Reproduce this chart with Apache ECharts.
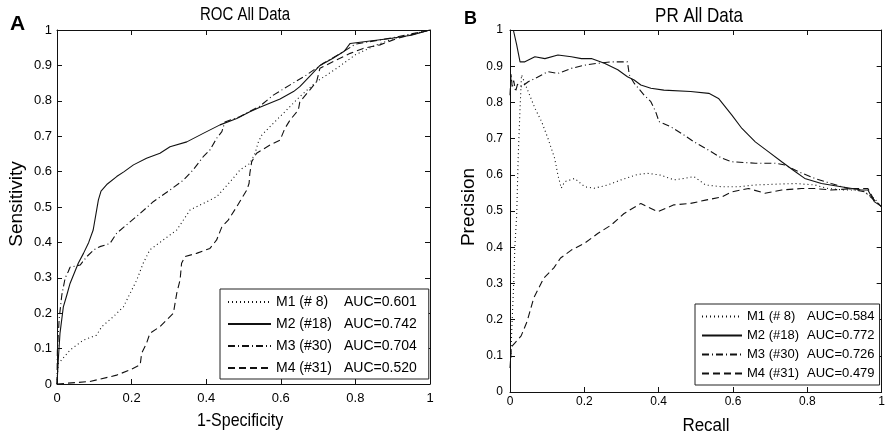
<!DOCTYPE html>
<html>
<head>
<meta charset="utf-8">
<script src="https://cdn.jsdelivr.net/npm/echarts@6/dist/echarts.min.js"></script>
<style>
html,body{margin:0;padding:0;background:#fff;}
#chart{width:888px;height:438px;}
</style>
</head>
<body>
<div id="chart"></div>
<script>
// ---------- data ----------
const modelNames = ['M1 (# 8)', 'M2 (#18)', 'M3 (#30)', 'M4 (#31)'];
const rocAUC = ['0.601', '0.742', '0.704', '0.520'];
const prAUC = ['0.584', '0.772', '0.726', '0.479'];
const xTicks = [0, 0.2, 0.4, 0.6, 0.8, 1];
const yTicks = [0, 0.1, 0.2, 0.3, 0.4, 0.5, 0.6, 0.7, 0.8, 0.9, 1];

// ROC curves: [1-specificity, sensitivity]
const rocM1 = [[0,0],[0.002,0.04],[0.004,0.058],[0.035,0.096],[0.071,0.124],[0.106,0.138],[0.12,0.162],[0.151,0.19],[0.178,0.218],[0.196,0.256],[0.214,0.294],[0.231,0.341],[0.249,0.379],[0.285,0.407],[0.321,0.435],[0.357,0.492],[0.392,0.51],[0.428,0.529],[0.464,0.571],[0.491,0.605],[0.517,0.623],[0.531,0.652],[0.54,0.684],[0.549,0.703],[0.571,0.727],[0.589,0.746],[0.611,0.769],[0.651,0.812],[0.696,0.854],[0.75,0.892],[0.8,0.93],[0.85,0.955],[0.9,0.975],[1,1]];
const rocM2 = [[0,0],[0.004,0.077],[0.008,0.143],[0.017,0.218],[0.026,0.25],[0.035,0.284],[0.057,0.341],[0.071,0.369],[0.085,0.4],[0.097,0.435],[0.106,0.49],[0.111,0.52],[0.118,0.545],[0.135,0.565],[0.16,0.586],[0.18,0.6],[0.205,0.619],[0.24,0.638],[0.276,0.652],[0.303,0.67],[0.348,0.684],[0.392,0.708],[0.437,0.732],[0.482,0.75],[0.517,0.769],[0.544,0.782],[0.598,0.805],[0.634,0.826],[0.651,0.84],[0.678,0.87],[0.705,0.9],[0.74,0.92],[0.77,0.94],[0.786,0.962],[0.893,0.976],[0.95,0.985],[1,1]];
const rocM3 = [[0,0],[0.001,0.093],[0.006,0.186],[0.013,0.252],[0.022,0.3],[0.03,0.317],[0.035,0.33],[0.062,0.336],[0.08,0.36],[0.1,0.38],[0.115,0.388],[0.142,0.397],[0.16,0.426],[0.196,0.458],[0.223,0.482],[0.258,0.515],[0.303,0.548],[0.339,0.576],[0.365,0.605],[0.392,0.642],[0.41,0.661],[0.428,0.694],[0.442,0.713],[0.45,0.74],[0.49,0.755],[0.52,0.772],[0.544,0.785],[0.58,0.816],[0.625,0.845],[0.669,0.873],[0.714,0.906],[0.768,0.939],[0.8,0.96],[0.9,0.978],[1,1]];
const rocM4 = [[0,0],[0.001,0.002],[0.088,0.007],[0.16,0.025],[0.196,0.04],[0.223,0.054],[0.227,0.087],[0.24,0.115],[0.249,0.143],[0.276,0.162],[0.294,0.181],[0.312,0.2],[0.321,0.256],[0.33,0.294],[0.334,0.341],[0.343,0.36],[0.374,0.369],[0.41,0.383],[0.428,0.407],[0.442,0.444],[0.459,0.463],[0.482,0.501],[0.495,0.524],[0.509,0.548],[0.515,0.567],[0.517,0.595],[0.522,0.628],[0.535,0.652],[0.571,0.675],[0.598,0.689],[0.611,0.722],[0.625,0.746],[0.647,0.774],[0.651,0.797],[0.678,0.831],[0.696,0.854],[0.705,0.892],[0.741,0.911],[0.786,0.934],[0.821,0.948],[0.866,0.958],[0.911,0.976],[1,1]];

// PR curves: [recall, precision]
const prM1 = [[0.002,0.094],[0.006,0.204],[0.01,0.3],[0.013,0.4],[0.018,0.489],[0.022,0.646],[0.027,0.784],[0.031,0.876],[0.049,0.83],[0.067,0.784],[0.085,0.747],[0.102,0.701],[0.12,0.646],[0.129,0.599],[0.138,0.563],[0.147,0.581],[0.174,0.59],[0.201,0.567],[0.227,0.563],[0.263,0.572],[0.299,0.586],[0.343,0.601],[0.37,0.604],[0.406,0.599],[0.441,0.586],[0.468,0.59],[0.495,0.595],[0.526,0.572],[0.57,0.567],[0.615,0.567],[0.66,0.572],[0.713,0.574],[0.767,0.576],[0.82,0.572],[0.856,0.562],[0.9,0.558],[0.945,0.558],[0.98,0.535],[1,0.512]];
const prM2 = [[0.009,1.0],[0.018,0.959],[0.027,0.912],[0.04,0.912],[0.067,0.926],[0.094,0.921],[0.129,0.931],[0.165,0.926],[0.192,0.921],[0.219,0.921],[0.254,0.908],[0.29,0.89],[0.316,0.871],[0.334,0.862],[0.352,0.848],[0.379,0.839],[0.414,0.834],[0.486,0.83],[0.535,0.825],[0.561,0.811],[0.597,0.765],[0.624,0.728],[0.66,0.691],[0.695,0.664],[0.731,0.636],[0.767,0.609],[0.793,0.59],[0.838,0.576],[0.891,0.567],[0.945,0.558],[0.963,0.558],[0.98,0.526],[1,0.512]];
const prM3 = [[0,0.82],[0.003,0.88],[0.006,0.84],[0.01,0.86],[0.015,0.83],[0.02,0.85],[0.031,0.843],[0.049,0.857],[0.067,0.866],[0.102,0.885],[0.129,0.88],[0.165,0.894],[0.201,0.903],[0.236,0.908],[0.272,0.912],[0.316,0.912],[0.321,0.876],[0.334,0.853],[0.361,0.82],[0.379,0.802],[0.392,0.774],[0.401,0.747],[0.432,0.733],[0.468,0.71],[0.495,0.691],[0.526,0.673],[0.57,0.646],[0.597,0.636],[0.66,0.632],[0.713,0.632],[0.74,0.627],[0.775,0.609],[0.82,0.59],[0.864,0.576],[0.909,0.562],[0.954,0.553],[0.98,0.53],[1,0.512]];
const prM4 = [[0,0.066],[0.004,0.125],[0.03,0.155],[0.046,0.195],[0.064,0.26],[0.091,0.315],[0.118,0.343],[0.136,0.37],[0.165,0.392],[0.201,0.411],[0.236,0.438],[0.272,0.461],[0.307,0.493],[0.352,0.521],[0.397,0.498],[0.441,0.517],[0.486,0.521],[0.526,0.53],[0.57,0.539],[0.597,0.553],[0.642,0.562],[0.686,0.549],[0.731,0.558],[0.784,0.562],[0.82,0.562],[0.864,0.558],[0.927,0.562],[0.963,0.562],[0.98,0.53],[1,0.512]];

// ---------- styling ----------
const SANS = '"Liberation Sans", Arial, Helvetica, sans-serif';
const INK = '#111';
const dashTypes = [[1, 3], 'solid', [7, 3, 1, 3], [7, 4]];

function xAxisDef(gridIndex, position, fs, margin) {
  const bottom = position === 'bottom';
  return {
    type: 'value', gridIndex: gridIndex, position: position, min: 0, max: 1, interval: 0.2,
    axisLine: {show: true, onZero: false, lineStyle: {color: INK, width: 1}},
    axisTick: {show: true, inside: true, length: 5, lineStyle: {color: INK}},
    splitLine: {show: false},
    axisLabel: {show: bottom, color: '#000', fontFamily: SANS, fontSize: fs, margin: margin,
      showMinLabel: true, showMaxLabel: true, formatter: v => String(+v.toFixed(1))}
  };
}
function yAxisDef(gridIndex, position, fs, margin) {
  const left = position === 'left';
  return {
    type: 'value', gridIndex: gridIndex, position: position, min: 0, max: 1, interval: 0.1,
    axisLine: {show: true, onZero: false, lineStyle: {color: INK, width: 1}},
    axisTick: {show: true, inside: true, length: 5, lineStyle: {color: INK}},
    splitLine: {show: false},
    axisLabel: {show: left, color: '#000', fontFamily: SANS, fontSize: fs, margin: margin,
      showMinLabel: true, showMaxLabel: true, formatter: v => String(+v.toFixed(1))}
  };
}

const rocData = [rocM1, rocM2, rocM3, rocM4];
const prData = [prM1, prM2, prM3, prM4];
const rocNames = modelNames.map((n, i) => n + '|AUC=' + rocAUC[i]);
const prNames = modelNames.map((n, i) => n + '|AUC=' + prAUC[i]);

function makeSeries(names, datas, axisIdx) {
  return datas.map((d, i) => ({
    type: 'line', name: names[i], data: d,
    xAxisIndex: axisIdx, yAxisIndex: axisIdx,
    symbol: 'none', showSymbol: false, smooth: false, animation: false,
    lineStyle: {color: INK, width: 1.1, type: dashTypes[i]},
    itemStyle: {color: INK}, z: 3
  }));
}

function legendDef(names, left, top, fs, iconW, aW, bW, pad, gap, itemH) {
  return {
    orient: 'vertical', left: left, top: top, padding: pad, itemGap: gap,
    itemWidth: iconW, itemHeight: itemH, selectedMode: false,
    borderColor: '#222', borderWidth: 1, backgroundColor: '#fff', borderRadius: 0,
    itemStyle: {opacity: 0, borderWidth: 0},
    data: names,
    formatter: n => { const p = n.split('|'); return '{a|' + p[0] + '}{b|' + p[1] + '}'; },
    textStyle: {fontFamily: SANS, fontSize: fs, color: '#000',
      rich: {a: {width: aW, fontFamily: SANS, fontSize: fs, lineHeight: itemH},
             b: {width: bW, fontFamily: SANS, fontSize: fs, lineHeight: itemH}}}
  };
}

const chart = echarts.init(document.getElementById('chart'), null, {renderer: 'canvas'});
chart.setOption({
  backgroundColor: '#fff',
  animation: false,
  grid: [
    {left: 57, top: 30, width: 373, height: 354, show: false},
    {left: 510, top: 30, width: 374, height: 362, show: false}
  ],
  xAxis: [
    xAxisDef(0, 'bottom', 13, 8), xAxisDef(0, 'top', 13, 8),
    xAxisDef(1, 'bottom', 12, 4), xAxisDef(1, 'top', 12, 4)
  ],
  yAxis: [
    yAxisDef(0, 'left', 13, 5), yAxisDef(0, 'right', 13, 5),
    yAxisDef(1, 'left', 12, 7), yAxisDef(1, 'right', 12, 7)
  ],
  legend: [
    legendDef(rocNames, 220, 289, 14, 43, 68, 70, [6, 12, 4, 7], 8, 16),
    legendDef(prNames, 695, 304, 13, 40, 60, 64, [6, 5, 5, 6], 6, 14)
  ],
  series: makeSeries(rocNames, rocData, 0).concat(makeSeries(prNames, prData, 2)),
  graphic: [
    {type: 'text', left: 10, top: 14, style: {text: 'A', font: 'bold 21px ' + SANS, fill: '#000'}},
    {type: 'text', left: 464, top: 10, style: {text: 'B', font: 'bold 18px ' + SANS, fill: '#000'}},
    {type: 'text', x: 245, y: 15, scaleY: 1.2, style: {text: 'ROC All Data', font: '15px ' + SANS, fill: '#000', textAlign: 'center', textVerticalAlign: 'middle'}},
    {type: 'text', x: 699, y: 17, scaleY: 1.15, style: {text: 'PR All Data', font: '17px ' + SANS, fill: '#000', textAlign: 'center', textVerticalAlign: 'middle'}},
    {type: 'text', x: 240, y: 421, scaleY: 1.2, style: {text: '1-Specificity', font: '16px ' + SANS, fill: '#000', textAlign: 'center', textVerticalAlign: 'middle'}},
    {type: 'text', x: 706, y: 426, scaleY: 1.1, style: {text: 'Recall', font: '17px ' + SANS, fill: '#000', textAlign: 'center', textVerticalAlign: 'middle'}},
    {type: 'text', x: 17, y: 204, rotation: Math.PI / 2, style: {text: 'Sensitivity', font: '19px ' + SANS, fill: '#000', textAlign: 'center', textVerticalAlign: 'middle'}},
    {type: 'text', x: 469, y: 207, rotation: Math.PI / 2, style: {text: 'Precision', font: '19px ' + SANS, fill: '#000', textAlign: 'center', textVerticalAlign: 'middle'}}
  ]
});
</script>
</body>
</html>
